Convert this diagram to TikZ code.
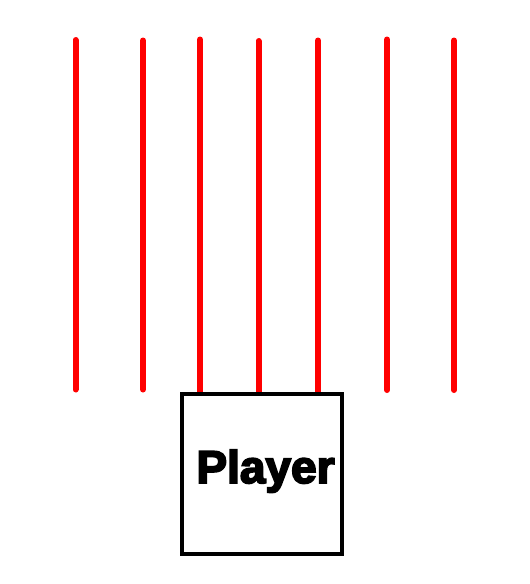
\documentclass[tikz,border=0pt]{standalone}
\usepackage{fontspec}
\setmainfont{Liberation Sans}
\newfontfamily\heavyfont[BoldFeatures={FakeBold=4}]{Liberation Sans}
\begin{document}
\begin{tikzpicture}[x=1pt,y=-1pt,
  ray/.style={draw=red,line width=6pt,line cap=round},
  playerbox/.style={draw=black,line width=4pt,fill=white,minimum width=160pt,minimum height=160pt,inner sep=0pt,outer sep=0pt},
  playerlabel/.style={font=\heavyfont\bfseries\fontsize{46}{46}\selectfont,inner sep=0pt,anchor=base}]
\useasboundingbox (0,0) rectangle (530,584);
% rays
\coordinate (t1) at (75.5,40); \coordinate (b1) at (75.5,389.5);
\coordinate (t2) at (143,40.5); \coordinate (b2) at (143,389.5);
\coordinate (t3) at (200,39.5);
\coordinate (t4) at (258.5,41);
\coordinate (t5) at (318,40.5);
\coordinate (t6) at (387,39.5); \coordinate (b6) at (387,390);
\coordinate (t7) at (454,40.5); \coordinate (b7) at (454,390);
\coordinate (b3) at (200,394);
\coordinate (b4) at (258.5,394);
\coordinate (b5) at (318,394);
\draw[ray] (t1) -- (b1);
\draw[ray] (t2) -- (b2);
\draw[ray] (t3) -- (b3);
\draw[ray] (t4) -- (b4);
\draw[ray] (t5) -- (b5);
\draw[ray] (t6) -- (b6);
\draw[ray] (t7) -- (b7);
\node[playerbox] (player) at (262,474) {};
\node[playerlabel] (label) at (265.5,483) {Player};
\end{tikzpicture}
\end{document}
